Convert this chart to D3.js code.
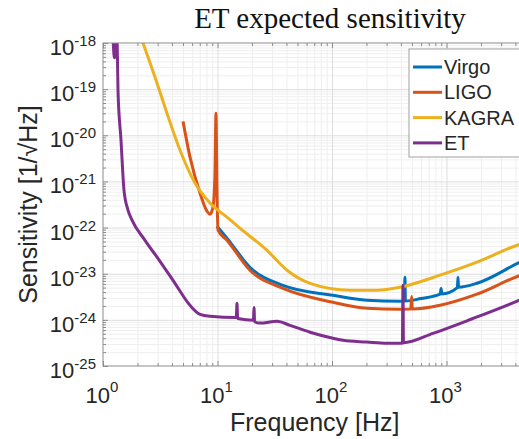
<!DOCTYPE html>
<html>
<head>
<meta charset="utf-8">
<script src="https://cdn.jsdelivr.net/npm/d3@7"></script>
<style>
  body { margin: 0; background: #fff; }
  svg { display: block; }
  text { font-family: 'Liberation Sans', Arial, Helvetica, sans-serif; fill: #262626; }
  .title { font-family: 'Liberation Serif', 'Times New Roman', serif; fill: #111; }
</style>
</head>
<body>
<svg id="chart"></svg>
<script>
/// data: [frequency Hz, sensitivity 1/sqrt(Hz)] ////////
const virgo = [
  [9.9, 1.07e-22], [12.1, 5.9e-23], [19.2, 1.38e-23], [37.3, 5.6e-24],
  [102, 3.4e-24], [202, 2.66e-24], [393, 2.53e-24], [428, 2.55e-24],
  [434, 8.4e-24], [438, 2.56e-24], [600, 2.9e-24], [880, 3.6e-24],
  [898, 4.8e-24], [910, 3.65e-24], [1245, 5.0e-24], [1260, 8.4e-24],
  [1275, 5.1e-24], [1846, 6.2e-24], [4210, 1.69e-23], [5000, 2.07e-23]
]

const ligo = [
  [5.0, 2.0e-20], [5.75, 3.4e-21], [7.03, 5.6e-22], [8.09, 2.27e-22],
  [8.6, 1.95e-22], [9.13, 2.77e-22], [9.5, 1.38e-21], [9.7, 3.0e-20],
  [9.9, 6.5e-22], [10.1, 8.8e-23], [12.1, 5.3e-23], [19.2, 1.19e-23],
  [37.3, 4.8e-24], [102, 2.4e-24], [202, 1.79e-24], [393, 1.70e-24],
  [487, 1.71e-24], [497, 3.2e-24], [502, 1.71e-24], [878, 2.07e-24],
  [1846, 3.6e-24], [4210, 8.8e-24], [5000, 1.02e-23]
]

const kagra = [
  [2.02, 2.0e-18], [2.236, 1.0e-18], [2.96, 1.36e-19], [3.62, 3.0e-20],
  [4.7, 4.8e-21], [6.36, 9.2e-22], [8.6, 3.4e-22], [12.1, 1.68e-22],
  [15.7, 9.7e-23], [27.1, 3.2e-23], [40.5, 1.19e-23], [64.3, 6.2e-24],
  [144, 4.4e-24], [247, 4.4e-24], [393, 5.1e-24], [878, 9.3e-24],
  [1846, 1.78e-23], [4210, 4.2e-23], [5000, 4.8e-23]
]

const et = [
  [1.21, 2.5e-18], [1.26, 4.8e-19], [1.285, 8e-19], [1.30, 2.5e-18],
  [1.33, 1.0e-18], [1.352, 9.5e-20], [1.436, 7.9e-21], [1.525, 6.5e-22],
  [1.653, 2.4e-22], [1.792, 1.45e-22], [2.327, 5.3e-23], [3.147, 1.86e-23],
  [4.254, 6.2e-24], [5.75, 2.07e-24], [7.03, 1.32e-24], [8.6, 1.2e-24],
  [14.6, 1.13e-24], [14.8, 2.3e-24], [15.0, 1.07e-24], [20.6, 9.8e-25],
  [20.84, 1.86e-24], [21.1, 9.1e-25], [23.5, 8.5e-25], [33.1, 9.3e-25],
  [43, 7.6e-25], [64.3, 5.4e-25], [102, 4.0e-25], [125, 3.6e-25],
  [202, 3.3e-25], [302, 3.1e-25], [412, 3.1e-25], [417, 5.6e-24],
  [421, 3.2e-25], [762, 5.1e-25], [1703, 1.07e-24], [4385, 2.7e-24],
  [5000, 3.1e-24]
]

const names = ['Virgo', 'LIGO', 'KAGRA', 'ET']
const seriesValues = [virgo, ligo, kagra, et]

/// tick labels ////////////////////////////////
const xMajor = [1, 10, 100, 1000]
const xExps = ['0', '1', '2', '3']
const yMajor = [1e-25, 1e-24, 1e-23, 1e-22, 1e-21, 1e-20, 1e-19, 1e-18]
const yExps = ['-25', '-24', '-23', '-22', '-21', '-20', '-19', '-18']

const colors = d3.scaleOrdinal()
  .domain(names)
  .range(['#0072bd', '#d95319', '#edb120', '#7e2f8e'])

/// layout ////////////////////////////////
const margin = { top: 43, left: 103 }
const plotWidth = 423.5
const plotHeight = 323
const axisColor = '#8c8c8c'

const svg = d3.select('#chart')
  .attr('width', 519)
  .attr('height', 439)

svg.append('rect')
  .attr('width', 519)
  .attr('height', 439)
  .attr('fill', '#fff')

/// Scales ////////////////////////////////
const xScale = d3.scaleLog()
  .domain([1, 5000])
  .range([margin.left, margin.left + plotWidth])
const yScale = d3.scaleLog()
  .domain([1e-25, 1e-18])
  .range([margin.top + plotHeight, margin.top])

// minor ticks 2..9 in each decade
const xMinor = []
xMajor.forEach(d => {
  for (let m = 2; m <= 9; m++) if (m * d <= 5000) xMinor.push(m * d)
})
const yMinor = []
yMajor.slice(0, -1).forEach(d => {
  for (let m = 2; m <= 9; m++) yMinor.push(m * d)
})

/// grid ////////////////////////////////
function grid(values, color) {
  svg.append('g')
    .attr('transform', `translate(0,${margin.top + plotHeight})`)
    .call(d3.axisBottom(xScale).tickValues(values.filter(v => v > 1 && v < 5000)).tickSize(-plotHeight).tickFormat(''))
    .call(g => g.select('.domain').remove())
    .selectAll('line').attr('stroke', color)
}
function gridY(values, color) {
  svg.append('g')
    .attr('transform', `translate(${margin.left},0)`)
    .call(d3.axisLeft(yScale).tickValues(values.filter(v => v > 1e-25 && v < 1e-18)).tickSize(-plotWidth).tickFormat(''))
    .call(g => g.select('.domain').remove())
    .selectAll('line').attr('stroke', color)
}
grid(xMinor, '#efefef')
gridY(yMinor, '#efefef')
grid(xMajor, '#dedede')
gridY(yMajor, '#dedede')

/// curves ////////////////////////////////
svg.append('clipPath')
  .attr('id', 'plot-clip')
  .append('rect')
  .attr('x', margin.left)
  .attr('y', margin.top)
  .attr('width', plotWidth)
  .attr('height', plotHeight)

const line = d3.line()
  .x(d => xScale(d[0]))
  .y(d => yScale(d[1]))
  .curve(d3.curveMonotoneX)

svg.append('g')
  .attr('clip-path', 'url(#plot-clip)')
  .selectAll('path')
  .data(seriesValues)
  .enter()
  .append('path')
  .attr('d', line)
  .attr('fill', 'none')
  .attr('stroke', (d, i) => colors(names[i]))
  .attr('stroke-width', 3)
  .attr('stroke-linejoin', 'round')

/// axes box and inward ticks ////////////////////////////////
function ticks(axis, transform) {
  [[xMajor, yMajor, 5], [xMinor, yMinor, 3]].forEach(([xv, yv, size]) => {
    const isX = axis === d3.axisBottom || axis === d3.axisTop
    svg.append('g')
      .attr('transform', transform)
      .call(axis(isX ? xScale : yScale).tickValues(isX ? xv : yv).tickSize(-size).tickFormat(''))
      .call(g => g.select('.domain').remove())
      .selectAll('line').attr('stroke', axisColor)
  })
}
ticks(d3.axisBottom, `translate(0,${margin.top + plotHeight})`)
ticks(d3.axisTop, `translate(0,${margin.top})`)
ticks(d3.axisLeft, `translate(${margin.left},0)`)
ticks(d3.axisRight, `translate(${margin.left + plotWidth},0)`)

svg.append('rect')
  .attr('x', margin.left)
  .attr('y', margin.top)
  .attr('width', plotWidth)
  .attr('height', plotHeight)
  .attr('fill', 'none')
  .attr('stroke', axisColor)

/// tick labels ////////////////////////////////
const xLabels = svg.append('g')
  .selectAll('text')
  .data(xMajor)
  .enter()
  .append('text')
  .attr('x', d => xScale(d) - 1)
  .attr('y', margin.top + plotHeight + 37)
  .attr('text-anchor', 'middle')
xLabels.append('tspan').attr('font-size', 22).text('10')
xLabels.append('tspan').attr('font-size', 15).attr('dy', -11).text((d, i) => xExps[i])

const yLabels = svg.append('g')
  .selectAll('text')
  .data(yMajor)
  .enter()
  .append('text')
  .attr('x', 96)
  .attr('y', d => yScale(d) + 12)
  .attr('text-anchor', 'end')
yLabels.append('tspan').attr('font-size', 22).text('10')
yLabels.append('tspan').attr('font-size', 15).attr('dy', -9).text((d, i) => yExps[i])

/// axis titles ////////////////////////////////
svg.append('text')
  .attr('x', margin.left + plotWidth / 2)
  .attr('y', 431)
  .attr('text-anchor', 'middle')
  .attr('font-size', 25)
  .text('Frequency [Hz]')

svg.append('text')
  .attr('transform', `translate(37,${margin.top + plotHeight / 2}) rotate(-90)`)
  .attr('text-anchor', 'middle')
  .attr('font-size', 25)
  .text('Sensitivity [1/\u221AHz]')

svg.append('text')
  .attr('class', 'title')
  .attr('x', 330)
  .attr('y', 28)
  .attr('text-anchor', 'middle')
  .attr('font-size', 29)
  .text('ET expected sensitivity')

/// legend ////////////////////////////////
const legend = svg.append('g').attr('transform', 'translate(409,49)')
legend.append('rect')
  .attr('width', 130)
  .attr('height', 108)
  .attr('fill', '#fff')
  .attr('stroke', '#a0a0a0')

const entries = legend.selectAll('g')
  .data(names)
  .enter()
  .append('g')
  .attr('transform', (d, i) => `translate(0,${18 + i * 25.3})`)
entries.append('line')
  .attr('x1', 4)
  .attr('x2', 33)
  .attr('stroke', d => colors(d))
  .attr('stroke-width', 3)
entries.append('text')
  .attr('x', 35)
  .attr('y', 7)
  .attr('font-size', 20)
  .text(d => d)
</script>
</body>
</html>
